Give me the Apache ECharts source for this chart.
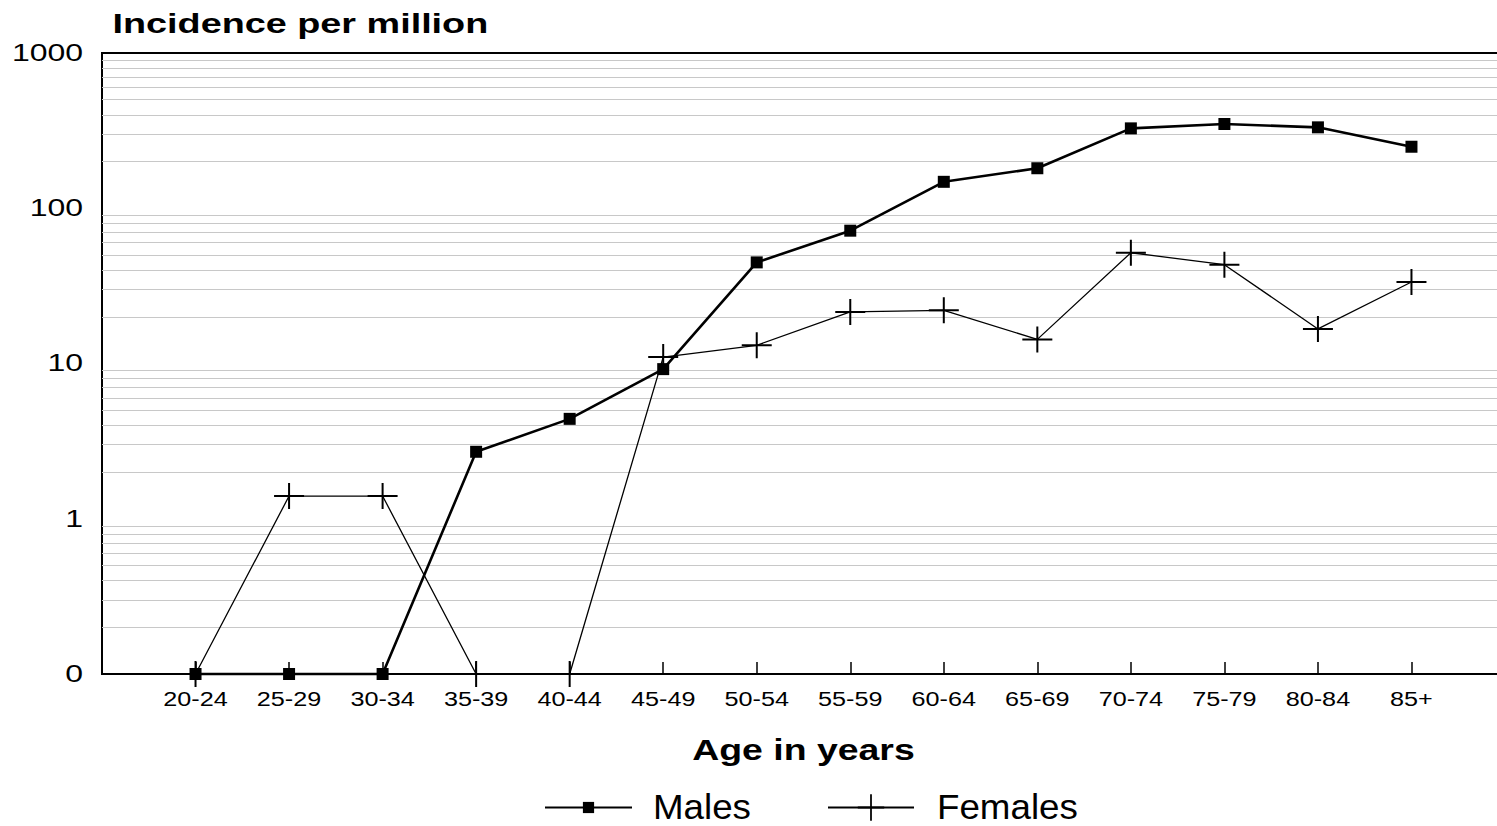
<!DOCTYPE html>
<html>
<head>
<meta charset="utf-8">
<script src="https://cdn.jsdelivr.net/npm/echarts@6/dist/echarts.min.js"></script>
<style>
  html, body { margin: 0; padding: 0; background: #fff; }
  #chart { width: 1497px; height: 826px; }
</style>
</head>
<body>
<div id="chart"></div>
<script>
const ageGroups = ['20-24','25-29','30-34','35-39','40-44','45-49','50-54','55-59','60-64','65-69','70-74','75-79','80-84','85+'];
const males   = [0, 0, 0, 2.7, 4.4, 9.2, 44.8, 71.7, 148, 181, 327, 349, 332, 249];
const females = [0, 1.4, 1.4, 0, 0, 11.0, 13.1, 21.5, 22.0, 14.3, 51.7, 43.3, 16.7, 33.5];
const yTickLabels = ['0', '1', '10', '100', '1000'];
const gridDecades = [0.1, 1, 10, 100];
const gridMultipliers = [2, 3, 4, 5, 6, 7, 8, 9];

const FONT = '"Liberation Sans", Arial, Helvetica, sans-serif';
const ZERO_AT = 0.1; // bottom of the log axis, labelled "0"

// horizontal stretch of the original (wide) lettering, keyed by font size
const STRETCH = { '27': 1.40, '29': 1.29, '23': 1.39, '21': 1.2, '35': 1.05 };

const minorLines = [];
gridDecades.forEach(d => gridMultipliers.forEach(m => minorLines.push({ yAxis: +(d * m).toPrecision(6) })));

const toPlot = arr => [null].concat(arr.map(v => (v === 0 ? ZERO_AT : v)));
const axisCats = [''].concat(ageGroups, ['']);

const plusPath = 'path://M0,12h14v-12h2v12h14v2h-14v12h-2v-12h-14z';

const chart = echarts.init(document.getElementById('chart'), null, { renderer: 'svg' });
chart.setOption({
  animation: false,
  backgroundColor: '#fff',
  textStyle: { fontFamily: FONT, color: '#000' },
  grid: {
    left: 102, top: 53, width: 1403, height: 621,
    outerBoundsMode: 'none', containLabel: false,
    show: true, borderColor: '#000', borderWidth: 2, backgroundColor: 'transparent'
  },
  graphic: [{
    type: 'text', x: 112.5, y: 23.5,
    style: {
      text: 'Incidence per million', fill: '#000',
      fontSize: 27, fontWeight: 'bold', fontFamily: FONT,
      align: 'left', verticalAlign: 'middle'
    }
  }],
  legend: [{
    data: ['Males'], left: 544, top: 790, padding: 0,
    itemWidth: 87, itemHeight: 14,
    textStyle: { fontSize: 35, fontFamily: FONT, color: '#000', padding: [0, 0, 0, 16] }
  }, {
    data: ['Females'], left: 827, top: 790, padding: 0,
    itemWidth: 86, itemHeight: 33,
    textStyle: { fontSize: 35, fontFamily: FONT, color: '#000', padding: [0, 0, 0, 18] }
  }],
  xAxis: {
    type: 'category', data: axisCats, boundaryGap: false,
    name: 'Age in years', nameLocation: 'middle', nameGap: 76.5,
    nameTextStyle: { fontSize: 29, fontWeight: 'bold', fontFamily: FONT, color: '#000', verticalAlign: 'middle' },
    axisLine: { lineStyle: { color: '#000', width: 1.5 } },
    axisTick: { show: true, inside: true, length: 12, lineStyle: { color: '#000', width: 1.5 } },
    axisLabel: { fontSize: 21, fontFamily: FONT, color: '#000', margin: 25, verticalAlign: 'middle', interval: 0 },
    splitLine: { show: false }
  },
  yAxis: {
    type: 'log', logBase: 10, min: 0.1, max: 1000,
    axisLine: { show: true, lineStyle: { color: '#000', width: 1.5 } },
    axisTick: { show: false },
    splitLine: { show: false },
    axisLabel: {
      fontSize: 23, fontFamily: FONT, color: '#000', margin: 19,
      formatter: (v, i) => yTickLabels[i] !== undefined ? yTickLabels[i] : String(v)
    }
  },
  series: [{
    name: 'grid', type: 'line', data: [], silent: true, z: 1,
    markLine: {
      silent: true, symbol: ['none', 'none'], label: { show: false },
      lineStyle: { color: '#c8c8c8', width: 1.2, type: 'solid' },
      emphasis: { disabled: true },
      data: minorLines
    }
  }, {
    name: 'Males', type: 'line', data: toPlot(males), z: 10, clip: false,
    symbol: 'rect', symbolSize: 12,
    lineStyle: { color: '#000', width: 2.6 },
    itemStyle: { color: '#000' }
  }, {
    name: 'Females', type: 'line', data: toPlot(females), z: 11, clip: false,
    symbol: plusPath, symbolSize: [30, 26],
    lineStyle: { color: '#000', width: 1.3 },
    itemStyle: { color: '#000', borderWidth: 0 }
  }]
});

// widen the lettering horizontally about each text's own anchor point
function stretchTexts() {
  document.querySelectorAll('#chart svg text').forEach(t => {
    if (t.getAttribute('data-stretched')) return;
    const m = (t.getAttribute('style') || '').match(/(\d+(?:\.\d+)?)px/);
    if (!m || !STRETCH[m[1]]) return;
    const sx = STRETCH[m[1]];
    const x = parseFloat(t.getAttribute('x') || '0');
    const y = parseFloat(t.getAttribute('y') || '0');
    const tr = t.getAttribute('transform') || '';
    t.setAttribute('transform', (tr + ' translate(' + x + ' ' + y + ') scale(' + sx + ' 1) translate(' + (-x) + ' ' + (-y) + ')').trim());
    t.setAttribute('data-stretched', '1');
  });
}
stretchTexts();
chart.on('finished', stretchTexts);
requestAnimationFrame(stretchTexts);
</script>
</body>
</html>
